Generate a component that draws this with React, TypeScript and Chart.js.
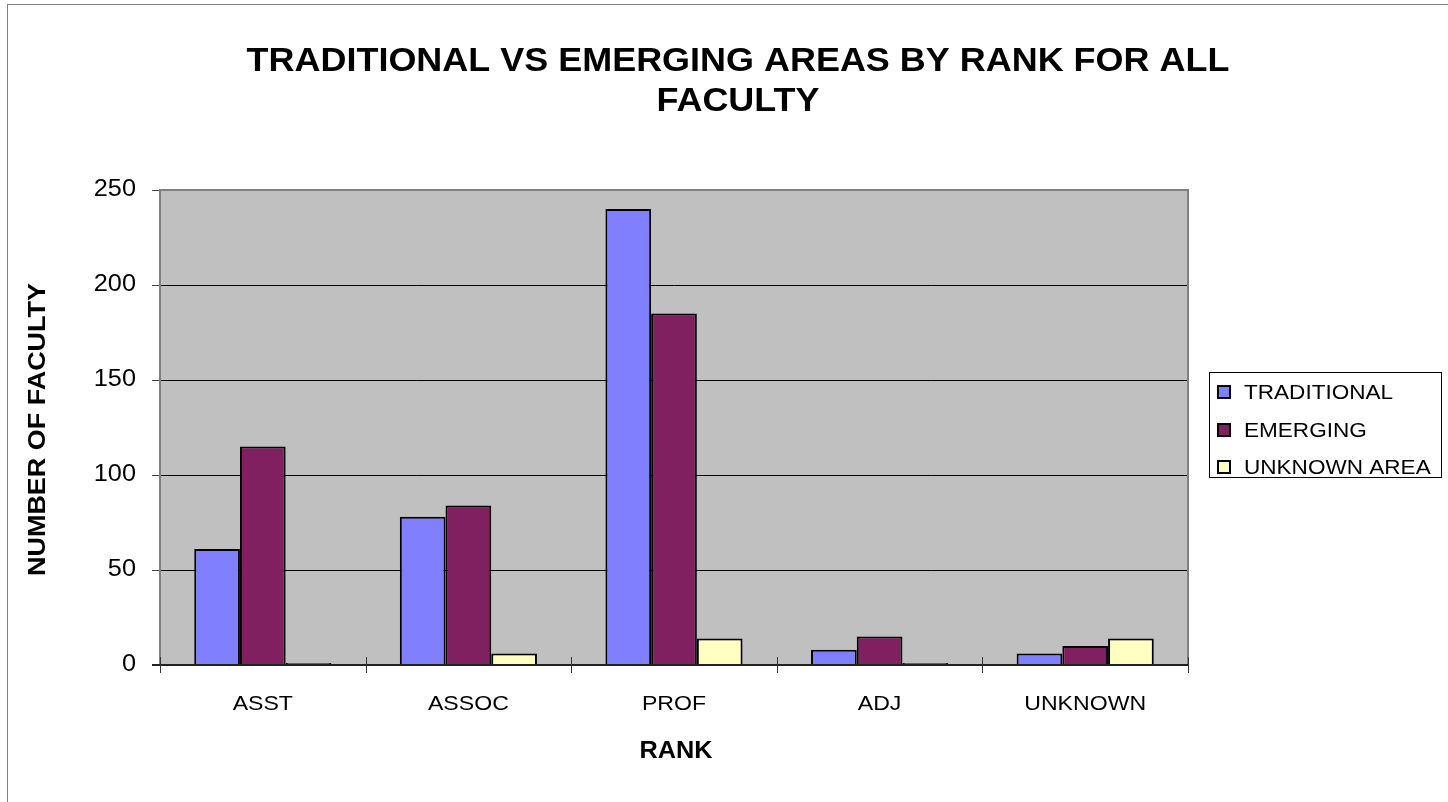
import React, { useEffect, useRef } from "react";
import { Chart, registerables } from "chart.js";

Chart.register(...registerables);

const categories = ["ASST", "ASSOC", "PROF", "ADJ", "UNKNOWN"];
const traditional = [61, 78, 240, 8, 6];
const emerging = [115, 84, 185, 15, 10];
const unknownArea = [1, 6, 14, 1, 14];
const yMax = 250;
const yStep = 50;
const titleLines = ["TRADITIONAL VS EMERGING AREAS BY RANK FOR ALL", "FACULTY"];
const seriesLabels = ["TRADITIONAL", "EMERGING", "UNKNOWN AREA"];
const seriesColors = ["#8080FF", "#802060", "#FFFFC0"];
const xTitle = "RANK";
const yTitle = "NUMBER OF FACULTY";

const FONT = "'Liberation Sans', Arial, sans-serif";
const SX = 1.1; // horizontal text stretch seen in the reference

function patchContext(ctx: any) {
  if (ctx.__stretched) return;
  ctx.__stretched = true;
  const origFill = ctx.fillText.bind(ctx);
  const origMeasure = ctx.measureText.bind(ctx);
  ctx.fillText = (text: string, x: number, y: number) => {
    ctx.save();
    ctx.translate(x, y);
    ctx.scale(SX, 1);
    origFill(text, 0, 0);
    ctx.restore();
  };
  ctx.measureText = (text: string) => {
    const m = origMeasure(text);
    return {
      width: m.width * SX,
      actualBoundingBoxAscent: m.actualBoundingBoxAscent,
      actualBoundingBoxDescent: m.actualBoundingBoxDescent,
      actualBoundingBoxLeft: m.actualBoundingBoxLeft * SX,
      actualBoundingBoxRight: m.actualBoundingBoxRight * SX,
      fontBoundingBoxAscent: m.fontBoundingBoxAscent,
      fontBoundingBoxDescent: m.fontBoundingBoxDescent,
    };
  };
}

const decorPlugin = {
  id: "decor",
  beforeDraw(chart: any) {
    const { ctx, chartArea: a, width, height } = chart;
    ctx.save();
    ctx.fillStyle = "#ffffff";
    ctx.fillRect(0, 0, width, height);
    ctx.strokeStyle = "#808080";
    ctx.lineWidth = 1;
    ctx.strokeRect(7.5, 4.5, width + 20, height + 20);
    ctx.fillStyle = "#C0C0C0";
    ctx.fillRect(a.left, a.top, a.right - a.left, a.bottom - a.top);
    ctx.restore();
  },
  afterDraw(chart: any) {
    const { ctx, chartArea: a } = chart;
    ctx.save();
    // plot border (top, left, right)
    ctx.strokeStyle = "#808080";
    ctx.lineWidth = 2;
    ctx.beginPath();
    ctx.moveTo(a.left, a.bottom);
    ctx.lineTo(a.left, a.top);
    ctx.lineTo(a.right, a.top);
    ctx.lineTo(a.right, a.bottom);
    ctx.stroke();
    // bottom axis line
    ctx.strokeStyle = "#222";
    ctx.lineWidth = 2;
    ctx.beginPath();
    ctx.moveTo(a.left - 8, a.bottom);
    ctx.lineTo(a.right, a.bottom);
    ctx.stroke();
    // x tick marks crossing the axis
    ctx.strokeStyle = "#333";
    ctx.lineWidth = 1;
    const n = categories.length;
    const w = (a.right - a.left) / n;
    for (let i = 0; i <= n; i++) {
      const x = Math.round(a.left + i * w) + 0.5;
      ctx.beginPath();
      ctx.moveTo(x, a.bottom - 8);
      ctx.lineTo(x, a.bottom + 8);
      ctx.stroke();
    }
    // title
    ctx.fillStyle = "#000";
    ctx.font = `bold 32.7px ${FONT}`;
    ctx.textAlign = "center";
    ctx.textBaseline = "middle";
    ctx.fillText(titleLines[0], 738, 62);
    ctx.fillText(titleLines[1], 738, 102);
    // axis titles
    ctx.font = `bold 23px ${FONT}`;
    ctx.fillText(xTitle, (a.left + a.right) / 2 + 2, 752);
    ctx.save();
    ctx.font = `bold 24.5px ${FONT}`;
    ctx.translate(38, (a.top + a.bottom) / 2 + 2);
    ctx.rotate(-Math.PI / 2);
    ctx.fillText(yTitle, 0, 0);
    ctx.restore();
    // legend
    const lx = 1209, ly = 372, lw = 232, lh = 105;
    ctx.fillStyle = "#ffffff";
    ctx.fillRect(lx, ly, lw, lh);
    ctx.strokeStyle = "#000";
    ctx.lineWidth = 1;
    ctx.strokeRect(lx + 0.5, ly + 0.5, lw, lh);
    const rows = [392, 430, 467];
    ctx.font = `20.5px ${FONT}`;
    ctx.textAlign = "left";
    ctx.textBaseline = "middle";
    chart.data.datasets.forEach((ds: any, i: number) => {
      const cy = rows[i];
      ctx.fillStyle = ds.backgroundColor;
      ctx.fillRect(1218, cy - 6, 12, 12);
      ctx.strokeStyle = "#000";
      ctx.lineWidth = 2;
      ctx.strokeRect(1218, cy - 6, 12, 12);
      ctx.fillStyle = "#000";
      ctx.fillText(ds.label, 1244, cy + 1);
    });
    ctx.restore();
  },
};

export default function App() {
  const ref = useRef<HTMLCanvasElement | null>(null);
  useEffect(() => {
    if (!ref.current) return;
    const c2d = ref.current.getContext("2d");
    patchContext(c2d);
    const chart = new Chart(ref.current, {
      type: "bar",
      data: {
        labels: categories,
        datasets: [traditional, emerging, unknownArea].map((d, i) => ({
          label: seriesLabels[i],
          data: d,
          backgroundColor: seriesColors[i],
          borderColor: "#000000",
          borderWidth: 2,
          categoryPercentage: 0.667,
          barPercentage: 1.0,
        })),
      },
      options: {
        responsive: false,
        animation: false,
        layout: { padding: { top: 190, right: 260, left: 0, bottom: 0 } },
        plugins: {
          legend: { display: false },
          title: { display: false },
          tooltip: { enabled: false },
        },
        scales: {
          x: {
            grid: { display: false, drawTicks: false },
            border: { display: false },
            ticks: {
              color: "#000",
              padding: 27,
              font: { family: FONT, size: 21 },
            },
            afterFit: (s: any) => {
              s.height = 137;
            },
          },
          y: {
            min: 0,
            max: yMax,
            ticks: {
              stepSize: yStep,
              color: "#000",
              padding: 16,
              font: { family: FONT, size: 23 },
            },
            grid: {
              color: (c: any) => (c.tick && c.tick.value === yMax ? "#808080" : "#000"),
              lineWidth: 1,
              tickLength: 8,
              tickColor: "#444",
            },
            border: { display: true, color: "#808080", width: 2 },
            afterFit: (s: any) => {
              s.width = 160;
            },
          },
        },
      },
      plugins: [decorPlugin],
    });
    return () => chart.destroy();
  }, []);
  return (
    <div style={{ position: "absolute", left: 0, top: 0, width: 1448, height: 802 }}>
      <canvas ref={ref} width={1448} height={802} style={{ display: "block" }} />
    </div>
  );
}
